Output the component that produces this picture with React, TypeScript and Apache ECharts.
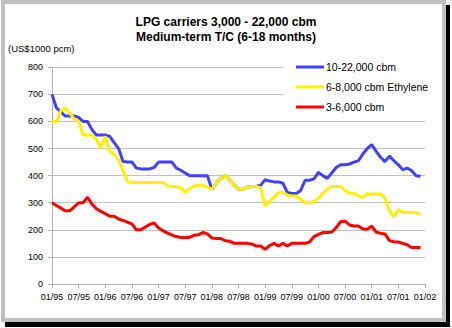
import React, { useEffect, useRef } from "react";
import * as echarts from "echarts";

// Tick labels every 6 months (month index 0 = 01/95, 84 = 01/02)
const tickLabels = ["01/95", "07/95", "01/96", "07/96", "01/97", "07/97", "01/98", "07/98", "01/99", "07/99", "01/00", "07/00", "01/01", "07/01", "01/02"];
const seriesNames = ["10-22,000 cbm", "6-8,000 cbm Ethylene", "3-6,000 cbm"];
const seriesColors = ["#4040FF", "#FFF000", "#FF0000"];

// Monthly values 01/95 .. 12/01 (US$1000 pcm)
const large = [700, 650, 635, 620, 620, 620, 615, 600, 600, 570, 550, 550, 550, 545, 522, 500, 452, 450, 450, 428, 425, 425, 425, 430,
  450, 450, 450, 450, 428, 420, 410, 400, 400, 400, 400, 400, 350, 372, 390, 400, 385, 365, 350, 350, 358, 360, 360, 365,
  385, 380, 377, 377, 372, 338, 334, 334, 345, 383, 383, 388, 412, 400, 390, 410, 430, 440, 440, 443, 450, 455, 480, 500,
  515, 490, 468, 452, 472, 455, 440, 422, 428, 418, 400, 398];
const ethylene = [600, 600, 640, 650, 630, 610, 600, 550, 550, 550, 535, 502, 545, 488, 480, 458, 418, 378, 375, 375, 375, 375, 375, 375,
  375, 375, 362, 360, 360, 355, 338, 352, 362, 365, 365, 358, 350, 372, 390, 400, 385, 365, 350, 350, 358, 360, 360, 355,
  288, 305, 320, 338, 338, 328, 325, 325, 312, 300, 300, 305, 316, 335, 350, 360, 360, 360, 345, 335, 335, 325, 320, 332,
  332, 332, 332, 318, 270, 248, 275, 265, 265, 265, 265, 255];
const small = [300, 290, 280, 270, 270, 285, 300, 300, 320, 295, 278, 268, 260, 250, 250, 240, 235, 228, 222, 200, 200, 210, 220, 225,
  207, 197, 188, 181, 175, 172, 172, 172, 180, 182, 190, 185, 170, 168, 168, 160, 158, 150, 150, 150, 150, 148, 140, 140,
  128, 142, 150, 140, 150, 140, 150, 150, 150, 150, 155, 175, 183, 190, 190, 192, 208, 230, 232, 218, 214, 214, 203, 202,
  214, 192, 187, 185, 160, 156, 155, 150, 145, 135, 135, 135];

const FONT = "Arial, 'Liberation Sans', sans-serif";

export default function App() {
  const ref = useRef<HTMLDivElement>(null);
  useEffect(() => {
    if (!ref.current) return;
    const chart = echarts.init(ref.current, undefined, { renderer: "svg" });
    const toPairs = (arr: number[]) => arr.map((v, i) => [i, v]);
    const allSeries = [large, ethylene, small];
    chart.setOption({
      animation: false,
      backgroundColor: "#ffffff",
      title: {
        text: "LPG carriers 3,000 - 22,000 cbm\nMedium-term T/C (6-18 months)",
        left: "center",
        top: 10,
        padding: [5, 9, 5, 5],
        textStyle: { fontSize: 12, fontWeight: "bold", lineHeight: 14.5, color: "#000", fontFamily: FONT },
      },
      legend: {
        orient: "vertical",
        left: 284,
        top: 55,
        padding: [5, 8, 3, 12],
        backgroundColor: "#ffffff",
        icon: "rect",
        itemWidth: 28,
        itemHeight: 3,
        itemGap: 6,
        data: seriesNames,
        textStyle: { fontSize: 10.5, color: "#000", fontFamily: FONT, lineHeight: 14, padding: [0, 0, 0, -3] },
      },
      grid: { left: 52, right: 27, top: 67.3, bottom: 44, containLabel: false },
      xAxis: {
        type: "value",
        min: 0,
        max: 84,
        interval: 6,
        axisLine: { show: true, lineStyle: { color: "#b0b0b0", width: 1 } },
        axisTick: { show: true, length: 4, lineStyle: { color: "#b0b0b0" } },
        splitLine: { show: false },
        axisLabel: {
          margin: 8,
          fontSize: 9,
          color: "#000",
          fontFamily: FONT,
          formatter: (v: number) => tickLabels[Math.round(v / 6)] ?? "",
        },
      },
      yAxis: {
        type: "value",
        min: 0,
        max: 800,
        interval: 100,
        axisLine: { show: true, lineStyle: { color: "#b0b0b0", width: 1 } },
        axisTick: { show: true, length: 4, lineStyle: { color: "#b0b0b0" } },
        splitLine: { show: true, lineStyle: { color: "#c0c0c0", width: 1 } },
        axisLabel: { margin: 9, fontSize: 9, color: "#000", fontFamily: FONT },
      },
      series: allSeries.map((arr, k) => ({
        name: seriesNames[k],
        type: "line",
        data: toPairs(arr),
        symbol: "none",
        showSymbol: false,
        lineStyle: { color: seriesColors[k], width: 3 },
        itemStyle: { color: seriesColors[k] },
        z: 2 + k,
      })),
      graphic: [
        { type: "rect", shape: { x: 1, y: 0, width: 445, height: 4 }, style: { fill: "#c0c0c0" }, silent: true },
        { type: "rect", shape: { x: 1, y: 0, width: 4, height: 322 }, style: { fill: "#c0c0c0" }, silent: true },
        { type: "rect", shape: { x: 442, y: 0, width: 4, height: 322 }, style: { fill: "#c0c0c0" }, silent: true },
        { type: "rect", shape: { x: 1, y: 318, width: 445, height: 4 }, style: { fill: "#c0c0c0" }, silent: true },
        { type: "rect", shape: { x: 446, y: 5, width: 4, height: 322 }, style: { fill: "#000000" }, silent: true },
        { type: "rect", shape: { x: 5, y: 322, width: 445, height: 5 }, style: { fill: "#000000" }, silent: true },
        {
          type: "text",
          x: 8,
          y: 48,
          style: { text: "(US$1000 pcm)", fill: "#000", font: `9.5px ${FONT}`, align: "left", verticalAlign: "middle" },
          silent: true,
        },
      ],
    });
    return () => chart.dispose();
  }, []);
  return (
    <div style={{ position: "absolute", left: 0, top: 0, width: 452, height: 328, background: "#fff" }}>
      <div ref={ref} style={{ width: 452, height: 328 }} />
    </div>
  );
}
